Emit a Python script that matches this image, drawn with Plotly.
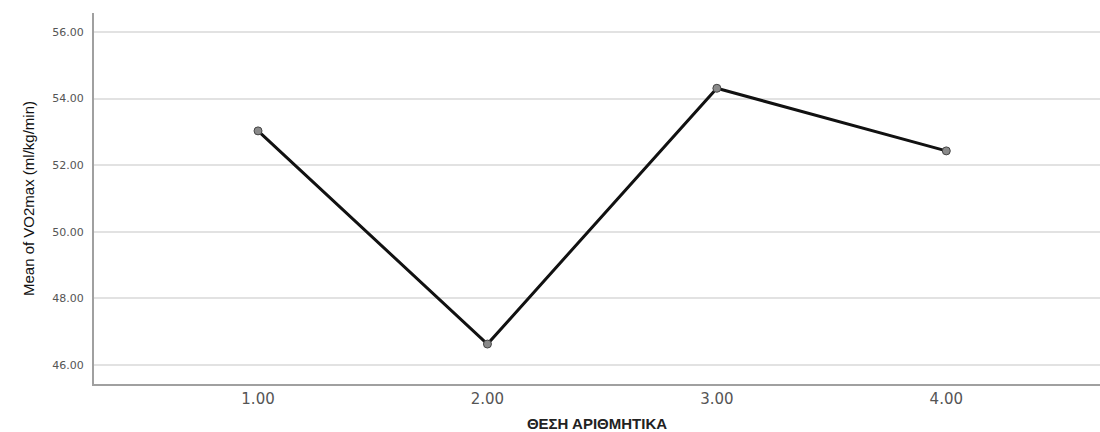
import plotly.graph_objects as go

positions = [1.0, 2.0, 3.0, 4.0]
mean_vo2max = [53.03, 46.63, 54.31, 52.43]
x_tick_vals = [1, 2, 3, 4]
x_tick_text = ["1.00", "2.00", "3.00", "4.00"]
y_tick_vals = [46, 48, 50, 52, 54, 56]
y_tick_text = ["46.00", "48.00", "50.00", "52.00", "54.00", "56.00"]

fig = go.Figure()
fig.add_trace(go.Scatter(
    x=positions, y=mean_vo2max, mode="lines+markers",
    line=dict(color="#111111", width=3),
    marker=dict(size=8, color="#8a8a8a", line=dict(color="#444444", width=1)),
    showlegend=False,
))

fig.update_layout(
    width=1100, height=432,
    margin=dict(l=94, r=0, t=13, b=48),
    plot_bgcolor="white", paper_bgcolor="white",
    font=dict(family="DejaVu Sans, Arial, sans-serif", color="#444444"),
)
fig.update_xaxes(
    range=[0.285, 4.67], tickvals=x_tick_vals, ticktext=x_tick_text,
    showgrid=False, zeroline=False,
    showline=True, linecolor="#a0a0a0", linewidth=2,
    ticks="", tickfont=dict(family="DejaVu Sans, Arial, sans-serif", size=15, color="#555555"),
    title=dict(text="<b>ΘΕΣΗ ΑΡΙΘΜΗΤΙΚΑ</b>",
               font=dict(family="Liberation Sans, Arial, sans-serif", size=15, color="#222222"),
               standoff=12),
)
fig.update_yaxes(
    range=[45.43, 56.57], tickvals=y_tick_vals, ticktext=y_tick_text,
    showgrid=True, gridcolor="#e2e2e2", gridwidth=2, zeroline=False,
    showline=True, linecolor="#a0a0a0", linewidth=2,
    ticks="", ticklabelstandoff=6,
    tickfont=dict(family="DejaVu Sans, Arial, sans-serif", size=11, color="#555555"),
    title=dict(text="Mean of VO2max (ml/kg/min)",
               font=dict(family="Liberation Sans Narrow, Arial Narrow, Liberation Sans, sans-serif", size=15, color="#111111"),
               standoff=14),
)

fig.write_html(
    "out.html",
    config={"displayModeBar": False},
    post_script="document.body.style.margin='0';document.body.style.overflow='hidden';",
)
